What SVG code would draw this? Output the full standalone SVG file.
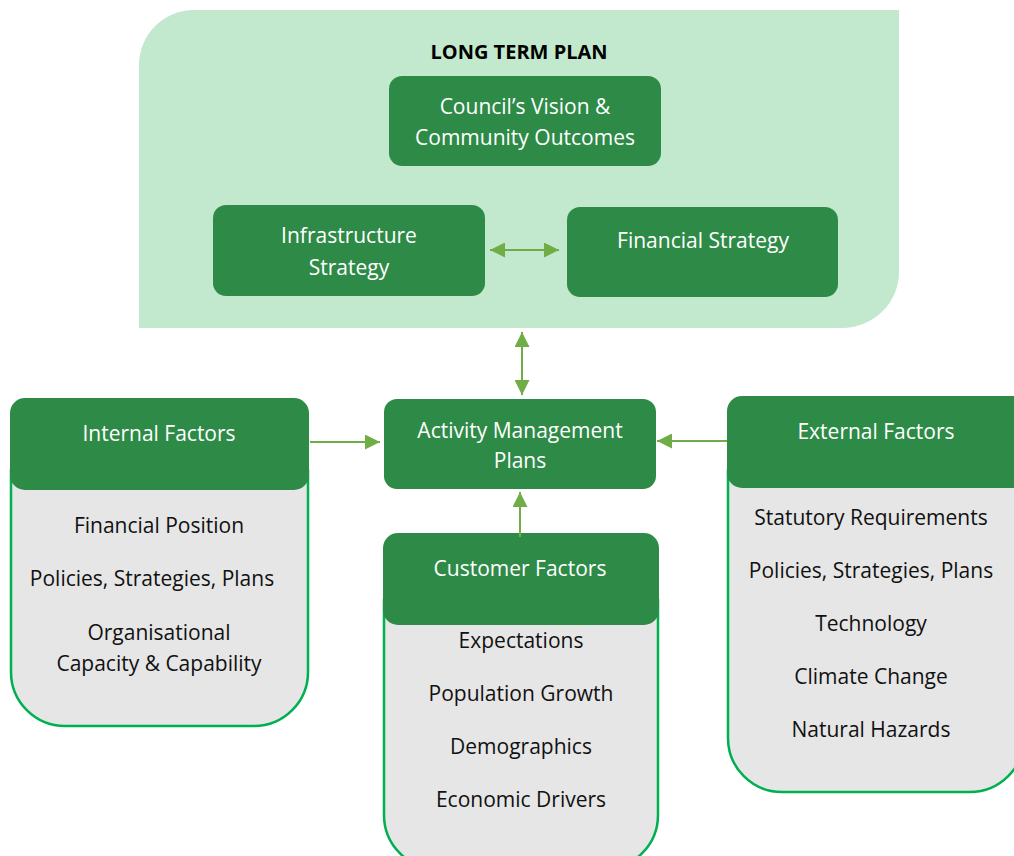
<svg xmlns="http://www.w3.org/2000/svg" width="1014" height="856" viewBox="0 0 1014 856">
<defs>
<style>
.box{fill:#2E8B47;}
.body{fill:#E6E6E6;stroke:#00B050;stroke-width:2.5;}
.wt{fill:#FFFFFF;font-family:"Open Sans","Liberation Sans",sans-serif;font-size:21px;text-anchor:middle;}
.bt{fill:#111111;font-family:"Open Sans","Liberation Sans",sans-serif;font-size:21px;text-anchor:middle;}
.conn{stroke:#70AD47;stroke-width:2;fill:none;}
</style>
<marker id="ah" viewBox="0 0 10 10" refX="10" refY="5" markerWidth="7.5" markerHeight="7.5" orient="auto-start-reverse" markerUnits="strokeWidth">
<path d="M0,0 L10,5 L0,10 Z" fill="#70AD47"/>
</marker>
</defs>
<rect width="1014" height="856" fill="#FFFFFF"/>
<g id="long-term-plan">
<path d="M194,10 L899,10 L899,272 A57,56 0 0 1 842,328 L139,328 L139,65 A55,55 0 0 1 194,10 Z" fill="#C2E9CD"/>
<text x="519" y="59" font-family="Open Sans,Liberation Sans,sans-serif" font-size="20" font-weight="bold" text-anchor="middle" fill="#000000">LONG TERM PLAN</text>
</g>
<g id="vision">
<rect class="box" x="389" y="76" width="272" height="90" rx="13"/>
<text class="wt" x="525" y="114">Council’s Vision &amp;</text>
<text class="wt" x="525" y="145">Community Outcomes</text>
</g>
<g id="infrastructure">
<rect class="box" x="213" y="205" width="272" height="91" rx="13"/>
<text class="wt" x="349" y="243">Infrastructure</text>
<text class="wt" x="349" y="275">Strategy</text>
</g>
<g id="financial">
<rect class="box" x="567" y="207" width="271" height="90" rx="13"/>
<text class="wt" x="703" y="248">Financial Strategy</text>
</g>
<g id="amp">
<rect class="box" x="384" y="399" width="272" height="90" rx="13"/>
<text class="wt" x="520" y="438">Activity Management</text>
<text class="wt" x="520" y="468">Plans</text>
</g>
<g id="internal">
<path class="body" d="M11,470 L308,470 L308,672 A54,54 0 0 1 254,726 L65,726 A54,54 0 0 1 11,672 Z"/>
<rect class="box" x="10" y="398" width="299" height="92" rx="15"/>
<text class="wt" x="159" y="441">Internal Factors</text>
<text class="bt" x="159" y="533">Financial Position</text>
<text class="bt" x="152" y="586">Policies, Strategies, Plans</text>
<text class="bt" x="159" y="640">Organisational</text>
<text class="bt" x="159" y="671">Capacity &amp; Capability</text>
</g>
<g id="customer">
<path class="body" d="M384,600 L658,600 L658,815 A54,54 0 0 1 604,869 L438,869 A54,54 0 0 1 384,815 Z"/>
<rect class="box" x="383" y="533" width="276" height="92" rx="15"/>
<text class="wt" x="520" y="576">Customer Factors</text>
<text class="bt" x="521" y="648">Expectations</text>
<text class="bt" x="521" y="701">Population Growth</text>
<text class="bt" x="521" y="754">Demographics</text>
<text class="bt" x="521" y="807">Economic Drivers</text>
</g>
<g id="external">
<path class="body" d="M728,470 L1024,470 L1024,738 A54,54 0 0 1 970,792 L782,792 A54,54 0 0 1 728,738 Z"/>
<rect class="box" x="727" y="396" width="300" height="92" rx="15"/>
<text class="wt" x="876" y="439">External Factors</text>
<text class="bt" x="871" y="525">Statutory Requirements</text>
<text class="bt" x="871" y="578">Policies, Strategies, Plans</text>
<text class="bt" x="871" y="631">Technology</text>
<text class="bt" x="871" y="684">Climate Change</text>
<text class="bt" x="871" y="737">Natural Hazards</text>
</g>
<g id="connectors">
<line class="conn" x1="490" y1="250" x2="559" y2="250" marker-start="url(#ah)" marker-end="url(#ah)"/>
<line class="conn" x1="522" y1="332" x2="522" y2="395" marker-start="url(#ah)" marker-end="url(#ah)"/>
<line class="conn" x1="310" y1="442" x2="380" y2="442" marker-end="url(#ah)"/>
<line class="conn" x1="727" y1="441" x2="657" y2="441" marker-end="url(#ah)"/>
<line class="conn" x1="520" y1="537" x2="520" y2="492" marker-end="url(#ah)"/>
</g>
</svg>
